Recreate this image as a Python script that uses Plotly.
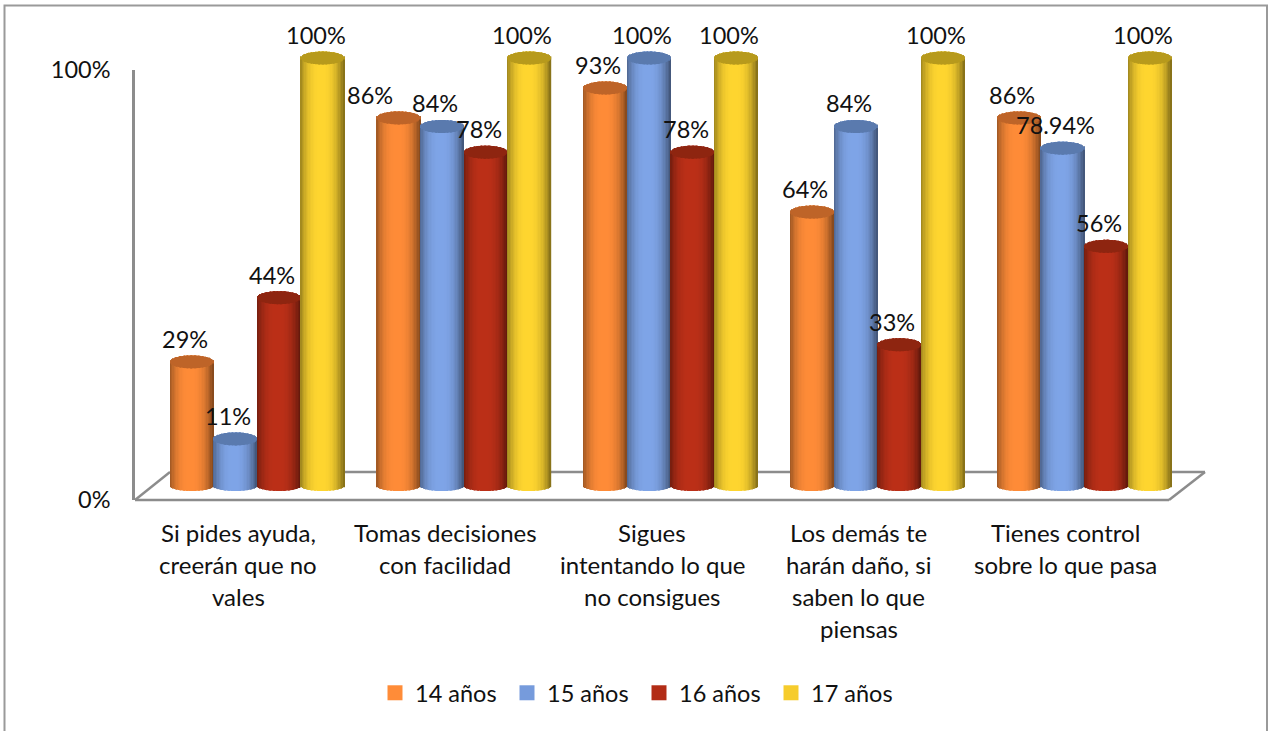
import numpy as np
import plotly.graph_objects as go

category_lines = [["Si pides ayuda,", "creerán que no", "vales"],
                  ["Tomas decisiones", "con facilidad"],
                  ["Sigues", "intentando lo que", "no consigues"],
                  ["Los demás te", "harán daño, si", "saben lo que", "piensas"],
                  ["Tienes control", "sobre lo que pasa"]]
series_names = ["14 años", "15 años", "16 años", "17 años"]
v14 = [29, 86, 93, 64, 86]
v15 = [11, 84, 100, 84, 78.94]
v16 = [44, 78, 78, 33, 56]
v17 = [100, 100, 100, 100, 100]
labels14 = ["29%", "86%", "93%", "64%", "86%"]
labels15 = ["11%", "84%", "100%", "84%", "78.94%"]
labels16 = ["44%", "78%", "78%", "33%", "56%"]
labels17 = ["100%", "100%", "100%", "100%", "100%"]
series_values = [v14, v15, v16, v17]
series_labels = [labels14, labels15, labels16, labels17]

W, H = 1272, 731
fx = lambda p: p / W
fy = lambda p: 1 - p / H
FONT = "Lato"
TXT = "#111111"
FS = 23.5
FS_CAT = 24
GRAY = "#8c8c8c"

# pixel layout of the two "planes" of the fake-3D chart
BACK_L, BACK_R = 170, 1204
FRONT_L, FRONT_R = 135, 1169
Y_TOP, Y_BOT = 40, 500
BASE_PX, TOP_PX = 486, 58
px_per_unit_y = (BASE_PX - TOP_PX) / 100.0
unit_x = (BACK_R - BACK_L) / 5.0
BAR_PX = 43.6
bar_w = BAR_PX / unit_x

mids = ["#FF8C38", "#7FA5E8", "#BC3018", "#FFD630"]
caps = ["#BE6428", "#5A7AAE", "#8E2510", "#B79A1C"]
legend_cols = ["#FF8C38", "#769BDC", "#B22C16", "#F6CC2C"]

N = 32
edges = np.linspace(-1, 1, N + 1)
u = (edges[:-1] + edges[1:]) / 2


def shade(hexcol, t):
    c = np.array([int(hexcol[i:i + 2], 16) for i in (1, 3, 5)], float)
    out = c * t
    return "rgb(%d,%d,%d)" % tuple(np.clip(out, 0, 255))


def bright(x):
    # dark edges, broad bright centre, slightly off-centre to the left
    d = np.abs(x + 0.05) / 1.05
    return 1 - 0.5 * d ** 2.6


fig = go.Figure()
for s, (name, vals) in enumerate(zip(series_names, series_values)):
    xs, ys, bases, widths, offs, cols = [], [], [], [], [], []
    ry_b = 5.0 / px_per_unit_y
    ry_t = 6.5 / px_per_unit_y
    for i, v in enumerate(vals):
        for k in range(N):
            e = np.sqrt(max(0, 1 - u[k] ** 2))
            # body strip
            xs.append(i)
            bases.append(-ry_b * e)
            ys.append(v + ry_t * e + ry_b * e)
            widths.append(bar_w / N)
            offs.append(-0.5 + (s + (edges[k] + 1) / 2) * bar_w)
            cols.append(shade(mids[s], bright(u[k])))
        for k in range(N):
            e = np.sqrt(max(0, 1 - u[k] ** 2))
            # elliptical top cap
            xs.append(i)
            bases.append(v - ry_t * e)
            ys.append(2 * ry_t * e)
            widths.append(bar_w / N)
            offs.append(-0.5 + (s + (edges[k] + 1) / 2) * bar_w)
            cols.append(shade(caps[s], 1.0))
    fig.add_trace(go.Bar(x=xs, y=ys, base=bases, width=widths, offset=offs,
                         marker=dict(color=cols, line=dict(width=0)),
                         hoverinfo="skip", showlegend=False, xaxis="x", yaxis="y"))

for s, name in enumerate(series_names):
    fig.add_trace(go.Scatter(x=[None], y=[None], mode="markers", name=name, xaxis="x", yaxis="y",
                             marker=dict(symbol="square", size=15, color=legend_cols[s])))

# invisible trace to activate the front-plane axes
fig.add_trace(go.Scatter(x=[0, 4], y=[0, 100], mode="markers", marker=dict(opacity=0),
                         xaxis="x2", yaxis="y2", showlegend=False, hoverinfo="skip"))

annotations = []
for s, (vals, labs) in enumerate(zip(series_values, series_labels)):
    for i, (v, lab) in enumerate(zip(vals, labs)):
        dx = -29 if (s == 0 and i == 1) else -7
        annotations.append(dict(x=i - 0.5 + (s + 0.5) * bar_w, y=v, xref="x", yref="y", text=lab,
                                showarrow=False, xshift=dx, yshift=23, xanchor="center", yanchor="middle",
                                font=dict(family=FONT, size=FS, color=TXT)))
for i, lines in enumerate(category_lines):
    for j, line in enumerate(lines):
        annotations.append(dict(x=i, xref="x2", y=fy(532.5 + 32 * j), yref="paper", text=line,
                                showarrow=False, xanchor="center", yanchor="middle",
                                font=dict(family=FONT, size=FS_CAT, color=TXT)))

line = dict(color=GRAY, width=2.5)
shapes = [
    dict(type="rect", xref="paper", yref="paper", x0=fx(4.5), x1=fx(1267), y0=fy(5.5), y1=fy(745),
         line=dict(color="#9a9a9a", width=2), layer="below"),
    dict(type="line", xref="paper", yref="paper", x0=fx(FRONT_L), x1=fx(FRONT_R), y0=fy(500), y1=fy(500), line=line, layer="below"),
    dict(type="line", xref="paper", yref="paper", x0=fx(FRONT_L), x1=fx(BACK_L), y0=fy(500), y1=fy(472), line=line, layer="below"),
    dict(type="line", xref="paper", yref="paper", x0=fx(FRONT_R), x1=fx(BACK_R + 1), y0=fy(500), y1=fy(472), line=line, layer="below"),
    dict(type="line", xref="paper", yref="paper", x0=fx(BACK_L), x1=fx(BACK_R + 1), y0=fy(472), y1=fy(472), line=line, layer="below"),
]

fig.update_layout(
    width=W, height=H, autosize=False, margin=dict(l=0, r=0, t=0, b=0, autoexpand=False),
    paper_bgcolor="white", plot_bgcolor="rgba(0,0,0,0)", barmode="overlay",
    annotations=annotations, shapes=shapes,
    font=dict(family=FONT, size=FS, color=TXT),
    xaxis=dict(domain=[fx(BACK_L), fx(BACK_R)], range=[-0.5, 4.5], visible=False, fixedrange=True),
    yaxis=dict(domain=[fy(Y_BOT), fy(Y_TOP)],
               range=[(BASE_PX - Y_BOT) / px_per_unit_y, (BASE_PX - Y_TOP) / px_per_unit_y],
               visible=False, fixedrange=True),
    xaxis2=dict(domain=[fx(FRONT_L), fx(FRONT_R)], range=[-0.5, 4.5], anchor="y2",
                showticklabels=False, showgrid=False, zeroline=False, showline=False, ticks="", fixedrange=True),
    yaxis2=dict(domain=[fy(500), fy(70)], range=[0, 100], anchor="x2", tickvals=[0, 100],
                ticktext=["0%", "100%"], showgrid=False, zeroline=False, showline=True,
                linecolor=GRAY, linewidth=2.5, ticks="outside", ticklen=17, tickcolor="rgba(0,0,0,0)",
                tickfont=dict(family=FONT, size=FS, color=TXT), fixedrange=True),
    legend=dict(orientation="h", x=fx(375), y=fy(693), xanchor="left", yanchor="middle",
                entrywidth=87, entrywidthmode="pixels", bgcolor="rgba(0,0,0,0)",
                font=dict(family=FONT, size=FS, color=TXT), traceorder="normal"),
    showlegend=True,
)

fig.write_html("out.html", config={"displayModeBar": False},
               post_script="document.body.style.margin='0';document.body.style.overflow='hidden';")
